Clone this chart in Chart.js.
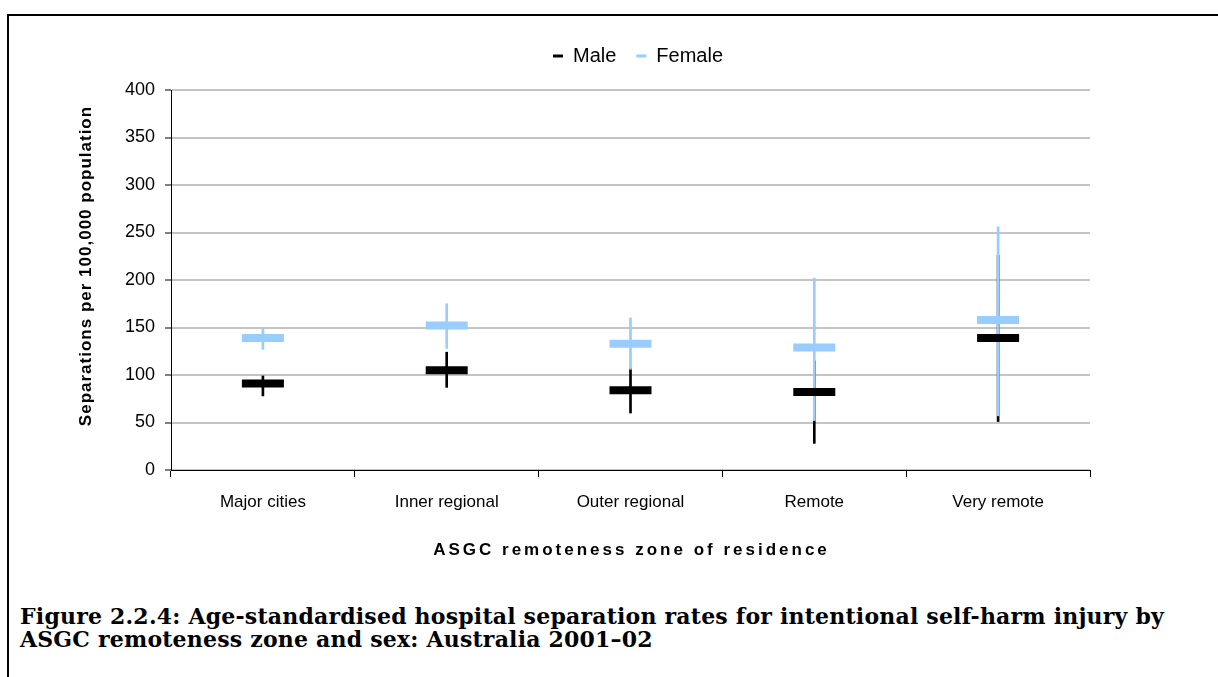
<!DOCTYPE html>
<html lang="en">
<head>
<meta charset="UTF-8">
<title>Self-harm separations by remoteness</title>
<style>
  body{margin:0;background:#fff;overflow:hidden;width:1218px;height:677px;position:relative;}
  #frame{position:absolute;left:7px;top:14px;width:1300px;height:800px;border:2px solid #000;}
  #chartBox{position:absolute;left:0;top:0;width:1218px;height:600px;}
  #caption{position:absolute;left:20px;top:605px;font-family:"DejaVu Serif",serif;font-weight:bold;font-size:22px;line-height:23px;letter-spacing:0.2px;color:#000;white-space:nowrap;}
</style>
<script src="https://cdn.jsdelivr.net/npm/chart.js"></script>
</head>
<body>
<div id="frame"></div>
<div id="chartBox"><canvas id="myChart" width="1218" height="600"></canvas></div>
<div id="caption">Figure 2.2.4: Age-standardised hospital separation rates for intentional self-harm injury by<br>ASGC remoteness zone and sex: Australia 2001–02</div>
<script>
  const zones = ['Major cities', 'Inner regional', 'Outer regional', 'Remote', 'Very remote'];
  const maleRate   = [91, 105, 84, 82, 139];
  const maleLow    = [78, 87, 60, 28, 51];
  const maleHigh   = [99, 124, 107, 115, 226];
  const femaleRate = [139, 152, 133, 129, 158];
  const femaleLow  = [127, 128, 106, 52, 57];
  const femaleHigh = [150, 175, 160, 202, 256];
  const yTicks = [0, 50, 100, 150, 200, 250, 300, 350, 400];

  const MALE = '#000000';
  const FEMALE = '#99ccff';

  Chart.defaults.font.family = '"Liberation Sans", Arial, sans-serif';
  Chart.defaults.color = '#000';

  function spaceTitle(scale, spacing, dx, dy) {
    if (scale._spaced) return;
    const orig = scale.drawTitle;
    scale.drawTitle = function () {
      const c = this.ctx;
      c.save();
      c.letterSpacing = spacing;
      c.translate(dx, dy);
      orig.call(this);
      c.restore();
    };
    scale._spaced = true;
  }

  // legend box is tied to layout padding, so nudge it to where the original sits;
  // axis titles get the spacing / offset of the original
  const tweaks = {
    id: 'tweaks',
    afterLayout(chart) {
      const lg = chart.legend;
      lg.left += 93; lg.right += 93;
      lg.top -= 14; lg.bottom -= 14;
      spaceTitle(chart.scales.x, '3px', 1, 0);
      spaceTitle(chart.scales.y, '1px', 0, -14);
    }
  };

  function rangeOf(lo, hi){
    return lo.map((v, i) => [v, hi[i]]);
  }

  const ctx = document.getElementById('myChart');
  new Chart(ctx, {
    type: 'bar',
    data: {
      labels: zones,
      datasets: [
        { type: 'line', label: 'Male', data: maleRate, showLine: false,
          pointStyle: 'line', pointRadius: 21, pointHoverRadius: 21,
          pointBorderWidth: 8, pointHoverBorderWidth: 8,
          pointBorderColor: MALE, borderColor: MALE, backgroundColor: MALE, borderWidth: 0, order: 2 },
        { type: 'line', label: 'Female', data: femaleRate, showLine: false,
          pointStyle: 'line', pointRadius: 21, pointHoverRadius: 21,
          pointBorderWidth: 8, pointHoverBorderWidth: 8,
          pointBorderColor: FEMALE, borderColor: FEMALE, backgroundColor: FEMALE, borderWidth: 0, order: 1 },
        { label: 'Male range', data: rangeOf(maleLow, maleHigh), backgroundColor: MALE,
          barThickness: 2, grouped: false, order: 4 },
        { label: 'Female range', data: rangeOf(femaleLow, femaleHigh), backgroundColor: FEMALE,
          barThickness: 2, grouped: false, order: 3 }
      ]
    },
    options: {
      responsive: false,
      animation: false,
      devicePixelRatio: 1,
      layout: { padding: { left: 0, right: 128, top: 40, bottom: 0 } },
      plugins: {
        tooltip: { enabled: false },
        legend: {
          labels: {
            boxWidth: 10, boxHeight: 3, padding: 20,
            font: { size: 20 }, color: '#000',
            filter: (item) => item.datasetIndex < 2,
            sort: (a, b) => a.datasetIndex - b.datasetIndex
          }
        }
      },
      scales: {
        x: {
          offset: true,
          ticks: { font: { size: 17 }, color: '#000', padding: 15 },
          grid: { drawOnChartArea: false, offset: true, tickLength: 7, tickColor: '#000', tickWidth: 1 },
          border: { color: '#000', width: 1 },
          title: { display: true, text: 'ASGC remoteness zone of residence',
                   font: { size: 17, weight: 'bold' }, color: '#000', padding: { top: 0, bottom: 39 } },
          afterFit(s){ s.height = 130; }
        },
        y: {
          min: 0, max: 400,
          afterBuildTicks(s){ s.ticks = yTicks.map(v => ({ value: v })); },
          ticks: { font: { size: 18 }, color: '#000', padding: 10 },
          grid: { color: '#c4c4c4', lineWidth: 2, tickLength: 6, tickColor: '#000', tickWidth: 1 },
          border: { color: '#000', width: 1 },
          title: { display: true, text: 'Separations per 100,000 population',
                   font: { size: 17, weight: 'bold' }, color: '#000', padding: { top: 76, bottom: 0 } },
          afterFit(s){ s.width = 171; }
        }
      }
    },
    plugins: [tweaks]
  });
</script>
</body>
</html>
